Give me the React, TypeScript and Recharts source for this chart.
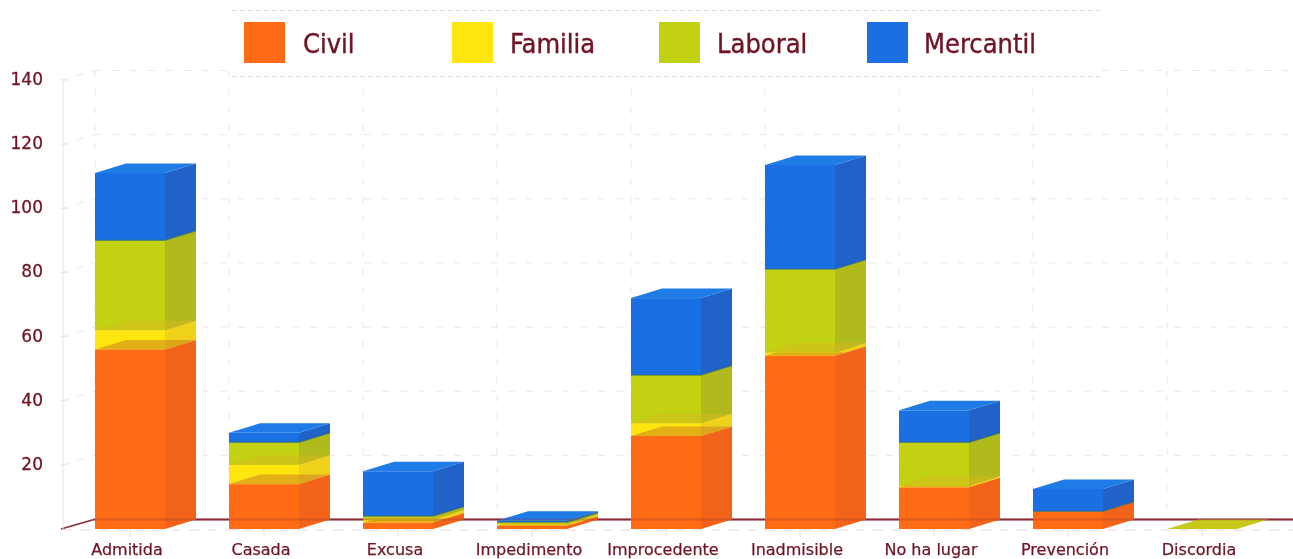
import React from "react";
import { BarChart, Bar, XAxis, YAxis, CartesianGrid, Legend, ReferenceLine } from "recharts";

const categories = ["Admitida", "Casada", "Excusa", "Impedimento", "Improcedente", "Inadmisible", "No ha lugar", "Prevención", "Discordia"];
const civil = [56, 14, 2, 1, 29, 54, 13, 5.5, null];
const familia = [6, 6, 1, 0.5, 4, 1, 0.5, null, null];
const laboral = [28, 7, 1, 0.6, 15, 26, 13.5, null, 0];
const mercantil = [21, 3, 14, 0.5, 24, 32.5, 10, 7, null];
const yTicks = [20, 40, 60, 80, 100, 120, 140];
const gridValues = [0, 20, 40, 60, 80, 100, 120, 140];

const seriesNames = ["Civil", "Familia", "Laboral", "Mercantil"];
const frontColors = ["#ff6a14", "#ffe60f", "#c2d212", "#1a6fe2"];
const sideColors = ["#f2641a", "#f0d21c", "#b0ba1c", "#2062c8"];
const topColors = ["#ff7a1e", "#ffd815", "#c8c81a", "#1f7ce6"];

const data = categories.map((name, i) => ({
  name,
  Civil: civil[i],
  Familia: familia[i],
  Laboral: laboral[i],
  Mercantil: mercantil[i],
}));

const DX = 31;
const DY = 9.5;
const TEXT = "#701424";
const GRID = "#efe3e5";
const FONT = "'DejaVu Sans', sans-serif";

function pts(list: number[][]) {
  return list.map((p) => p.join(",")).join(" ");
}

function makeShape(index: number) {
  return function Shape(props: any) {
    const { x, y, width, height, payload } = props;
    if (payload[seriesNames[index]] == null) return <g />;
    const yb = y + height;
    let under = -1;
    for (let k = index - 1; k >= 0; k--) {
      if (payload[seriesNames[k]] != null) {
        under = k;
        break;
      }
    }
    const band = Math.min(DY, height);
    const bandDx = (band / DY) * DX;
    const isTopSeries = index === seriesNames.length - 1;
    return (
      <g>
        <rect x={x} y={y} width={width} height={height} fill={frontColors[index]} />
        <polygon
          points={pts([[x + width, y], [x + width + DX, y - DY], [x + width + DX, yb - DY], [x + width, yb]])}
          fill={sideColors[index]}
        />
        {under >= 0 && !isTopSeries && (
          <polygon
            points={pts([[x, yb], [x + width, yb], [x + width + bandDx, yb - band], [x + bandDx, yb - band]])}
            fill={under === 0 ? "#c8781e" : "#d8b81c"}
            fillOpacity={0.5}
          />
        )}
        {under >= 0 && isTopSeries && (
          <polyline
            points={pts([[x, yb], [x + width, yb], [x + width + DX, yb - DY]])}
            fill="none"
            stroke="#3a6a50"
            strokeOpacity={0.6}
            strokeWidth={1.2}
          />
        )}
        <polygon
          points={pts([[x, y], [x + width, y], [x + width + DX, y - DY], [x + DX, y - DY]])}
          fill={topColors[index]}
        />
      </g>
    );
  };
}

function HGrid(props: any) {
  const { x1, x2, y1 } = props;
  if (y1 > 500) {
    return (
      <g>
        <line x1={x1} x2={x2 + DX} y1={y1 + 1} y2={y1 + 1} stroke="#e8d9dc" strokeDasharray="10 8" />
        <line x1={x1 - 2} x2={x1 + DX} y1={y1} y2={y1 - DY} stroke="#8c2a3a" strokeWidth={1.6} />
        <line x1={x1 + DX} x2={x2 + DX} y1={y1 - DY} y2={y1 - DY} stroke="#8c2a3a" strokeWidth={1.8} />
      </g>
    );
  }
  return (
    <g>
      <line x1={x1 - 3} x2={x1 + 5} y1={y1} y2={y1} stroke={GRID} />
      <line x1={x1} x2={x1 + DX} y1={y1} y2={y1 - DY} stroke={GRID} strokeDasharray="6 9" />
      <line x1={x1 + DX} x2={x2 + DX} y1={y1 - DY} y2={y1 - DY} stroke={GRID} strokeDasharray="7 11" />
    </g>
  );
}

function VGrid(props: any) {
  const { x1, y1, y2 } = props;
  return <line x1={x1 + DX + 1} x2={x1 + DX + 1} y1={y1 - DY} y2={y2 - DY} stroke={GRID} strokeDasharray="7 11" />;
}

function FloorOverlay(props: any) {
  const { x1, x2, y1 } = props;
  if (typeof y1 !== "number") return <g />;
  return <line x1={x1 + DX} x2={x2 + DX} y1={y1 - DY} y2={y1 - DY} stroke="#8c2a3a" strokeWidth={1.8} strokeOpacity={0.25} />;
}

function XTick(props: any) {
  const { x, y, payload } = props;
  return (
    <text x={x - 3} y={y + 16} textAnchor="middle" fontFamily={FONT} fontSize={16} fill={TEXT} stroke={TEXT} strokeWidth={0.25}>
      {payload.value}
    </text>
  );
}

function YTick(props: any) {
  const { x, y, payload } = props;
  return (
    <text x={x} y={y + 5} textAnchor="end" fontFamily={FONT} fontSize={17} fill={TEXT} stroke={TEXT} strokeWidth={0.3}>
      {payload.value}
    </text>
  );
}

function LegendBox(props: any) {
  const items = props.payload || [];
  const dash = "repeating-linear-gradient(90deg,#e6d6da 0 5px,transparent 5px 8px)";
  return (
    <div style={{ position: "absolute", left: 232, top: 10, width: 868, height: 67, background: "#fff" }}>
      <div style={{ position: "absolute", left: 0, top: 0, width: "100%", height: 1, backgroundImage: dash }} />
      <div style={{ position: "absolute", left: 0, bottom: 0, width: "100%", height: 1, backgroundImage: dash }} />
      {items.map((it: any, i: number) => (
        <React.Fragment key={it.value}>
          <div style={{ position: "absolute", left: 12 + i * 207.5, top: 12, width: 41, height: 41, background: it.color }} />
          <span
            style={{
              position: "absolute",
              left: 71 + i * 207,
              top: 16,
              fontFamily: "'DejaVu Sans Condensed', 'DejaVu Sans', sans-serif",
              fontSize: 27,
              lineHeight: "36px",
              color: TEXT,
              whiteSpace: "nowrap",
              WebkitTextStroke: "0.4px " + TEXT,
            }}
          >
            {it.value}
          </span>
        </React.Fragment>
      ))}
    </div>
  );
}

export default function App() {
  return (
    <div style={{ position: "absolute", left: 0, top: 0, width: 1293, height: 559, overflow: "hidden", background: "#fff", filter: "blur(0.5px)" }}>
      <BarChart
        width={1293}
        height={559}
        data={data}
        margin={{ top: 80, right: 24, bottom: 0, left: 0 }}
        barSize={70}
      >
        <CartesianGrid horizontal={HGrid as any} vertical={VGrid as any} horizontalValues={gridValues} verticalCoordinatesGenerator={({ offset }: any) => categories.map((_, i) => offset.left + (i * offset.width) / categories.length)} />
        <XAxis dataKey="name" interval={0} height={30} axisLine={false} tickLine={{ stroke: "#e8d9dc" }} tickSize={8} tick={XTick as any} />
        <YAxis domain={[0, 140]} ticks={yTicks} width={63} axisLine={{ stroke: "#ecdfe2" }} tickLine={false} tickMargin={14} tick={YTick as any} />
        <ReferenceLine y={0} stroke="none" shape={FloorOverlay as any} />
        <Legend content={LegendBox as any} wrapperStyle={{ left: 0, top: 0, width: 0, height: 0 }} />
        {seriesNames.map((s, i) => (
          <Bar key={s} dataKey={s} name={s} stackId="a" fill={frontColors[i]} isAnimationActive={false} shape={makeShape(i) as any} />
        ))}
      </BarChart>
    </div>
  );
}
